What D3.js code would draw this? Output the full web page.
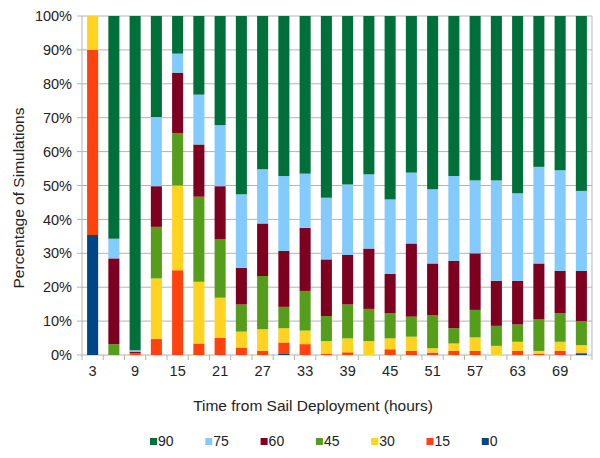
<!DOCTYPE html>
<html>
<head>
<meta charset="utf-8">
<script src="https://cdn.jsdelivr.net/npm/d3@7"></script>
<style>
  body { margin: 0; background: #fff; }
  svg { display: block; font-family: "Liberation Sans", Arial, sans-serif; }
</style>
</head>
<body>
<script>
// hours after sail deployment
var hours = [3, 6, 9, 12, 15, 18, 21, 24, 27, 30, 33, 36, 39, 42, 45, 48, 51, 54, 57, 60, 63, 66, 69, 72];

// percentage of simulations per final angle bucket
var s0  = [35.4, 0, 0, 0, 0, 0, 0, 0, 0, 0.3, 0, 0, 0, 0, 0, 0, 0, 0, 0, 0, 0, 0, 0, 0.3];
var s15 = [54.6, 0, 0.3, 4.7, 25.0, 3.4, 5.1, 2.2, 1.2, 3.4, 3.2, 0.3, 0.8, 0, 1.7, 1.2, 0.7, 1.2, 1.2, 0, 1.2, 0.3, 1.2, 0.4];
var s30 = [10, 0, 0, 17.9, 25.0, 18.2, 11.8, 4.7, 6.4, 4.2, 4.0, 3.8, 4.1, 4.1, 3.2, 4.2, 1.3, 2.2, 4.0, 2.7, 2.7, 0.9, 2.7, 2.2];
var s45 = [0, 3.2, 0.3, 15.2, 15.5, 25.1, 17.2, 8.0, 15.7, 6.3, 11.7, 7.4, 10.0, 9.5, 7.4, 5.9, 9.8, 4.5, 8.1, 5.9, 5.1, 9.3, 8.4, 7.1];
var s60 = [0, 25.3, 0.4, 12.0, 17.8, 15.4, 15.7, 10.8, 15.5, 16.5, 18.6, 16.7, 14.6, 17.8, 11.6, 21.6, 15.2, 19.9, 16.7, 13.3, 12.9, 16.5, 12.5, 14.8];
var s75 = [0, 5.8, 0.4, 20.4, 5.6, 14.7, 18.0, 21.7, 16.0, 22.1, 16.0, 18.2, 20.8, 21.9, 22.0, 20.9, 21.9, 25.0, 21.5, 29.6, 25.8, 28.5, 29.7, 23.6];
var s90 = [0, 65.7, 98.6, 29.8, 11.1, 23.2, 32.2, 52.6, 45.2, 47.2, 46.5, 53.6, 49.7, 46.7, 54.1, 46.2, 51.1, 47.2, 48.5, 48.5, 52.3, 44.5, 45.5, 51.6];

var keys = ["0", "15", "30", "45", "60", "75", "90"];
var colors = ["#004586", "#ff420e", "#ffd320", "#579d1c", "#7e0021", "#83caff", "#00703a"];
var legendOrder = ["90", "75", "60", "45", "30", "15", "0"];

var seriesVals = { "0": s0, "15": s15, "30": s30, "45": s45, "60": s60, "75": s75, "90": s90 };
var table = hours.map(function (h, i) {
    var row = { hour: h };
    keys.forEach(function (k) { row[k] = seriesVals[k][i]; });
    return row;
});

var width = 600, height = 458;
var plotLeft = 82, plotRight = 592, plotTop = 16, plotBottom = 355;

var svg = d3.select("body").append("svg")
    .attr("width", width)
    .attr("height", height);

var x = d3.scaleBand()
    .domain(hours)
    .range([plotLeft, plotRight])
    .paddingInner(0.48)
    .paddingOuter(0.24);

var y = d3.scaleLinear()
    .domain([0, 1])
    .range([plotBottom, plotTop]);

var color = d3.scaleOrdinal().domain(keys).range(colors);

// grid lines
svg.append("g")
    .selectAll("line")
    .data(y.ticks(10))
    .enter().append("line")
    .attr("x1", plotLeft - 5)
    .attr("x2", plotRight)
    .attr("y1", function (d) { return y(d); })
    .attr("y2", function (d) { return y(d); })
    .attr("stroke", "#b3b3b3")
    .attr("stroke-width", 1);

// frame sides
svg.append("line")
    .attr("x1", plotLeft).attr("x2", plotLeft)
    .attr("y1", plotTop).attr("y2", plotBottom)
    .attr("stroke", "#b3b3b3");
svg.append("line")
    .attr("x1", plotRight).attr("x2", plotRight)
    .attr("y1", plotTop).attr("y2", plotBottom)
    .attr("stroke", "#b3b3b3");

// x tick marks on category boundaries
var half = (x.step() - x.bandwidth()) / 2;
var bounds = hours.map(function (h) { return x(h) - half; });
bounds.push(x(hours[hours.length - 1]) + x.bandwidth() + half);
svg.append("g")
    .selectAll("line")
    .data(bounds)
    .enter().append("line")
    .attr("x1", function (d) { return d; })
    .attr("x2", function (d) { return d; })
    .attr("y1", plotBottom)
    .attr("y2", plotBottom + 5)
    .attr("stroke", "#b3b3b3");

// stacked bars
var stack = d3.stack().keys(keys).offset(d3.stackOffsetExpand);
var layers = stack(table);

svg.append("g")
    .selectAll("g")
    .data(layers)
    .enter().append("g")
    .attr("fill", function (d) { return color(d.key); })
    .selectAll("rect")
    .data(function (d) { return d; })
    .enter().append("rect")
    .attr("x", function (d) { return x(d.data.hour); })
    .attr("width", x.bandwidth())
    .attr("y", function (d) { return y(d[1]); })
    .attr("height", function (d) { return Math.max(0, y(d[0]) - y(d[1])); });

// y axis labels
var yAxis = d3.axisLeft(y)
    .ticks(10, ".0%")
    .tickSize(0)
    .tickPadding(10);

svg.append("g")
    .attr("transform", "translate(" + plotLeft + ",0)")
    .call(yAxis)
    .call(function (g) { g.select(".domain").remove(); })
    .selectAll("text")
    .attr("font-size", 14.5)
    .attr("fill", "#222");

// x axis labels (every other category)
var xAxis = d3.axisBottom(x)
    .tickValues(hours.filter(function (h, i) { return i % 2 === 0; }))
    .tickSize(0)
    .tickPadding(11);

svg.append("g")
    .attr("transform", "translate(0," + plotBottom + ")")
    .call(xAxis)
    .call(function (g) { g.select(".domain").remove(); })
    .selectAll("text")
    .attr("font-size", 14.5)
    .attr("fill", "#222");

// axis titles
svg.append("text")
    .attr("x", 313)
    .attr("y", 411)
    .attr("text-anchor", "middle")
    .attr("font-size", 15.5)
    .attr("fill", "#222")
    .text("Time from Sail Deployment (hours)");

svg.append("text")
    .attr("transform", "translate(24,198) rotate(-90)")
    .attr("text-anchor", "middle")
    .attr("font-size", 15.5)
    .attr("fill", "#222")
    .text("Percentage of Simulations");

// legend
var legend = svg.append("g")
    .selectAll("g")
    .data(legendOrder)
    .enter().append("g")
    .attr("transform", function (d, i) { return "translate(" + (150 + i * 55.3) + ",438)"; });

legend.append("rect")
    .attr("width", 7)
    .attr("height", 7)
    .attr("fill", function (d) { return color(d); });

legend.append("text")
    .attr("x", 8)
    .attr("y", 8)
    .attr("font-size", 14)
    .attr("fill", "#222")
    .text(function (d) { return d; });
</script>
</body>
</html>
